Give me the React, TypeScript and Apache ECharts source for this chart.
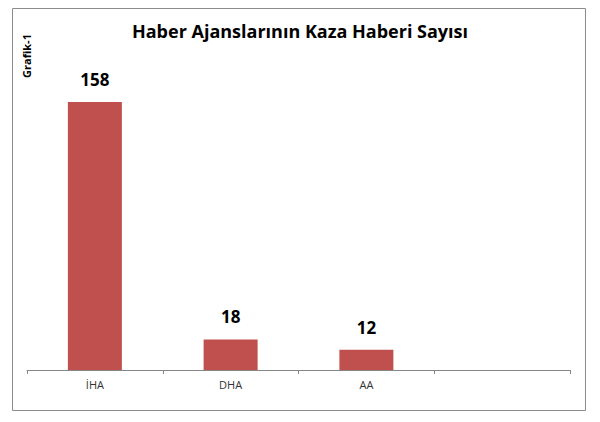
import React, { useEffect, useRef } from 'react';
import * as echarts from 'echarts';

const categories = ['İHA', 'DHA', 'AA', ''];
const values: (number | null)[] = [158, 18, 12, null];

const App = () => {
  const chartRef = useRef<HTMLDivElement>(null);

  useEffect(() => {
    const chart = echarts.init(chartRef.current, null, { renderer: 'svg' });
    chart.setOption({
      animation: false,
      textStyle: { fontFamily: 'Open Sans' },
      title: {
        text: 'Haber Ajanslarının Kaza Haberi Sayısı',
        left: 'center',
        top: 17,
        textStyle: { fontSize: 18, fontWeight: 'bold', color: '#000', fontFamily: 'Open Sans' },
      },
      graphic: [
        {
          type: 'rect',
          shape: { x: 12.5, y: 8.5, width: 573, height: 402 },
          style: { fill: 'none', stroke: '#8c8c8c', lineWidth: 1 },
          silent: true,
        },
        {
          type: 'text',
          x: 26,
          y: 56,
          rotation: Math.PI / 2,
          style: {
            text: 'Grafik-1',
            fontSize: 11,
            fontWeight: 'bold',
            fontFamily: 'Open Sans',
            fill: '#000',
            align: 'center',
            verticalAlign: 'middle',
          },
        },
      ],
      grid: { left: 27, right: 30, top: 102, bottom: 52 },
      xAxis: {
        type: 'category',
        data: categories,
        axisLine: { lineStyle: { color: '#868686' } },
        axisTick: { show: true, length: 4, lineStyle: { color: '#868686' } },
        axisLabel: { color: '#333', fontSize: 11, margin: 9 },
      },
      yAxis: {
        type: 'value',
        min: 0,
        max: 158,
        show: false,
      },
      series: [
        {
          type: 'bar',
          data: values,
          barWidth: 54,
          itemStyle: { color: '#c0504d' },
          label: {
            show: true,
            position: 'top',
            distance: 14,
            fontSize: 17,
            fontWeight: 'bold',
            color: '#000',
            fontFamily: 'Open Sans',
          },
        },
      ],
    });
    return () => chart.dispose();
  }, []);

  return (
    <div
      ref={chartRef}
      style={{ position: 'fixed', left: 0, top: 0, width: 600, height: 422, background: '#fff' }}
    />
  );
};

export default App;
